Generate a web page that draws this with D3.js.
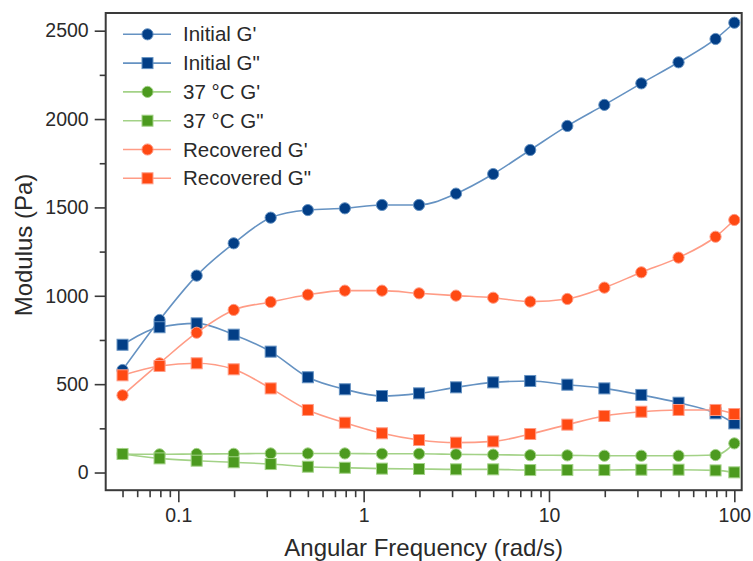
<!DOCTYPE html>
<html>
<head>
<meta charset="utf-8">
<script src="https://cdn.jsdelivr.net/npm/d3@7"></script>
<style>
  html, body { margin: 0; padding: 0; background: #fff; }
  svg { display: block; font-family: "Liberation Sans", Arial, sans-serif; }
</style>
</head>
<body>
<svg id="chart" width="753" height="561"></svg>
<script>
// ---- data ----
const frequency = [0.05, 0.0792, 0.1256, 0.199, 0.315, 0.5, 0.792, 1.256, 1.99, 3.15, 5, 7.92, 12.56, 19.9, 31.5, 50, 79.2, 100];
const initialGp   = [580, 863, 1114, 1297, 1442, 1485, 1495, 1514, 1514, 1578, 1689, 1825, 1961, 2080, 2202, 2321, 2453, 2545];
const initialGpp  = [723, 822, 844, 780, 684, 539, 471, 433, 448, 482, 510, 518, 497, 476, 439, 395, 335, 278];
const c37Gp       = [105, 103, 105, 106, 108, 108, 108, 106, 106, 103, 101, 98, 97, 95, 95, 95, 99, 165];
const c37Gpp      = [105, 80, 67, 58, 48, 33, 27, 22, 20, 18, 18, 14, 14, 14, 16, 16, 12, 1];
const recoveredGp = [437, 618, 791, 920, 965, 1006, 1029, 1029, 1014, 1001, 989, 967, 982, 1046, 1133, 1216, 1334, 1429];
const recoveredGpp= [550, 603, 618, 584, 476, 354, 282, 222, 184, 169, 176, 218, 271, 320, 344, 354, 354, 331];

const seriesNames = ["Initial G'", "Initial G\"", "37 °C G'", "37 °C G\"", "Recovered G'", "Recovered G\""];
const seriesValues = [initialGp, initialGpp, c37Gp, c37Gpp, recoveredGp, recoveredGpp];
const seriesShapes = ["circle", "square", "circle", "square", "circle", "square"];
const markerColors = ["#023e86", "#023e86", "#4c9a1f", "#4c9a1f", "#ff4913", "#ff4913"];
const lineColors   = ["#6592c2", "#6592c2", "#a3d287", "#a3d287", "#ff9c86", "#ff9c86"];

const xMajorTicks = [0.1, 1, 10, 100];
const xTickLabels = ["0.1", "1", "10", "100"];
const yMajorTicks = [0, 500, 1000, 1500, 2000, 2500];
const yMinorTicks = [250, 750, 1250, 1750, 2250];

(function () {
// ---- layout ----
const pL = 105.7, pR = 741.7, pT = 13, pB = 490.2;
const textColor = "#2a2a2a", axisColor = "#3a3a3a";

const svg = d3.select("#chart");
const x = d3.scaleLog().domain([0.04057, 109.6]).range([pL, pR]);
const y = d3.scaleLinear().domain([-100, 2600]).range([pB, pT]);

// minor x ticks (2..9 in each decade)
const xMinorTicks = [];
[0.01, 0.1, 1, 10].forEach(d => { for (let k = 2; k <= 9; k++) { const v = +(d * k).toPrecision(3); if (v >= x.domain()[0] && v <= x.domain()[1]) xMinorTicks.push(v); } });

// x axis
const xAxisMajor = d3.axisBottom(x).tickValues(xMajorTicks).tickSize(12).tickPadding(6)
  .tickFormat((d, i) => xTickLabels[i]);
const xAxisMinor = d3.axisBottom(x).tickValues(xMinorTicks).tickSize(7).tickFormat("");
const gxMinor = svg.append("g").attr("transform", `translate(0,${pB})`).call(xAxisMinor);
const gx = svg.append("g").attr("transform", `translate(0,${pB})`).call(xAxisMajor);

// y axis
const yAxisMajor = d3.axisLeft(y).tickValues(yMajorTicks).tickSize(11).tickPadding(6).tickFormat(d3.format("d"));
const yAxisMinor = d3.axisLeft(y).tickValues(yMinorTicks).tickSize(6).tickFormat("");
const gyMinor = svg.append("g").attr("transform", `translate(${pL},0)`).call(yAxisMinor);
const gy = svg.append("g").attr("transform", `translate(${pL},0)`).call(yAxisMajor);

[gx, gxMinor, gy, gyMinor].forEach(g => {
  g.select(".domain").remove();
  g.selectAll(".tick line").attr("stroke", axisColor).attr("stroke-width", 1.6);
  g.selectAll(".tick text").attr("fill", textColor).attr("font-size", 19.5)
    .attr("font-family", "'Liberation Sans', Arial, sans-serif");
});

// frame
svg.append("rect").attr("x", pL).attr("y", pT).attr("width", pR - pL).attr("height", pB - pT)
  .attr("fill", "none").attr("stroke", axisColor).attr("stroke-width", 2);

// axis titles
svg.append("text").attr("x", (pL + pR) / 2).attr("y", 556).attr("text-anchor", "middle")
  .attr("font-size", 24).attr("fill", textColor).text("Angular Frequency (rad/s)");
svg.append("text").attr("transform", "translate(32,245) rotate(-90)").attr("text-anchor", "middle")
  .attr("font-size", 24).attr("fill", textColor).text("Modulus (Pa)");

// series
const line = d3.line().x(d => x(d[0])).y(d => y(d[1])).curve(d3.curveMonotoneX);
const plot = svg.append("g");

function drawMarker(g, shape, cx, cy, fill, stroke) {
  if (shape === "circle") {
    g.append("circle").attr("cx", cx).attr("cy", cy).attr("r", 5.6)
      .attr("fill", fill).attr("stroke", stroke).attr("stroke-width", 1);
  } else {
    const s = 11;
    g.append("rect").attr("x", cx - s / 2).attr("y", cy - s / 2).attr("width", s).attr("height", s)
      .attr("fill", fill).attr("stroke", stroke).attr("stroke-width", 1);
  }
}

seriesValues.forEach((vals, i) => {
  const pts = frequency.map((f, j) => [f, vals[j]]);
  const g = plot.append("g");
  g.append("path").attr("d", line(pts)).attr("fill", "none")
    .attr("stroke", lineColors[i]).attr("stroke-width", 1.6);
  pts.forEach(p => drawMarker(g, seriesShapes[i], x(p[0]), y(p[1]), markerColors[i], lineColors[i]));
});

// legend
const legend = svg.append("g");
const legendY0 = 34.3, legendStep = 28.8;
seriesNames.forEach((name, i) => {
  const ly = legendY0 + i * legendStep;
  legend.append("line").attr("x1", 123).attr("x2", 171).attr("y1", ly).attr("y2", ly)
    .attr("stroke", lineColors[i]).attr("stroke-width", 1.6);
  drawMarker(legend, seriesShapes[i], 147.5, ly, markerColors[i], lineColors[i]);
  legend.append("text").attr("x", 183).attr("y", ly).attr("dy", "0.35em")
    .attr("font-size", 20.5).attr("fill", textColor).text(name);
});
})();
</script>
</body>
</html>
